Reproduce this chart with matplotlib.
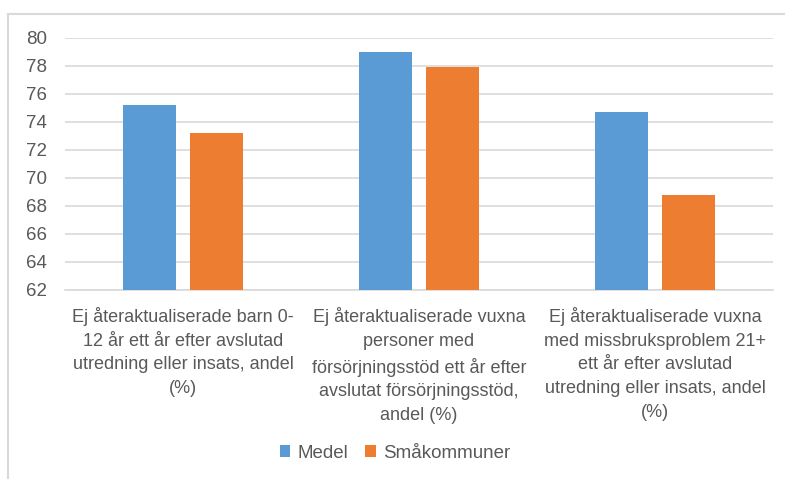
import matplotlib
matplotlib.use("Agg")
import matplotlib.pyplot as plt
from matplotlib.lines import Line2D
import numpy as np

categories = [
    "Ej återaktualiserade barn 0-\n12 år ett år efter avslutad\nutredning eller insats, andel\n(%)",
    "Ej återaktualiserade vuxna\npersoner med\nförsörjningsstöd ett år efter\navslutat försörjningsstöd,\nandel (%)",
    "Ej återaktualiserade vuxna\nmed missbruksproblem 21+\nett år efter avslutad\nutredning eller insats, andel\n(%)",
]
medel = [75.2, 79.0, 74.7]
smakommuner = [73.2, 77.9, 68.8]
series_names = ["Medel", "Småkommuner"]
yticks = [62, 64, 66, 68, 70, 72, 74, 76, 78, 80]

plt.rcParams['font.family'] = ['Liberation Sans', 'DejaVu Sans']
txt = '#595959'

W, H = 785, 479
fig = plt.figure(figsize=(W/100, H/100), dpi=100)
ax = fig.add_axes([65/W, 1-290/H, (773-65)/W, (290-37.7)/H])

x = np.arange(len(categories))
bw = 0.226
off = 0.142
ax.bar(x - off, [v - 62 for v in medel], bw, bottom=62, color='#5B9BD5', label=series_names[0], zorder=3)
ax.bar(x + off, [v - 62 for v in smakommuner], bw, bottom=62, color='#ED7D31', label=series_names[1], zorder=3)

ax.set_xlim(-0.5, 2.5)
ax.set_ylim(62, 80)
ax.set_yticks(yticks)
ax.set_yticklabels([str(t) for t in yticks], fontsize=13.5, color=txt)
ax.yaxis.grid(True, color='#D9D9D9', linewidth=1.2, zorder=0)
ax.set_xticks(x)
ax.set_xticklabels(categories, fontsize=13, color=txt, linespacing=1.53)
ax.tick_params(axis='both', length=0)
ax.tick_params(axis='y', pad=13)
ax.tick_params(axis='x', pad=12)
for s in ['left', 'right', 'top']:
    ax.spines[s].set_visible(False)
ax.spines['bottom'].set_color('#D9D9D9')
ax.spines['bottom'].set_linewidth(1.2)

leg = fig.legend(loc='center', bbox_to_anchor=(395/W, 1-453/H), ncol=2, frameon=False,
                 fontsize=13.5, handlelength=0.55, handleheight=0.55, handletextpad=0.4,
                 columnspacing=0.9)
for t in leg.get_texts():
    t.set_color(txt)

frame_kw = dict(color='#D9D9D9', linewidth=1.5, transform=fig.transFigure)
fig.add_artist(Line2D([8/W, 8/W], [0, 1-14/H], **frame_kw))
fig.add_artist(Line2D([8/W, 1], [1-14/H, 1-14/H], **frame_kw))

fig.savefig('out.png', dpi=100)
